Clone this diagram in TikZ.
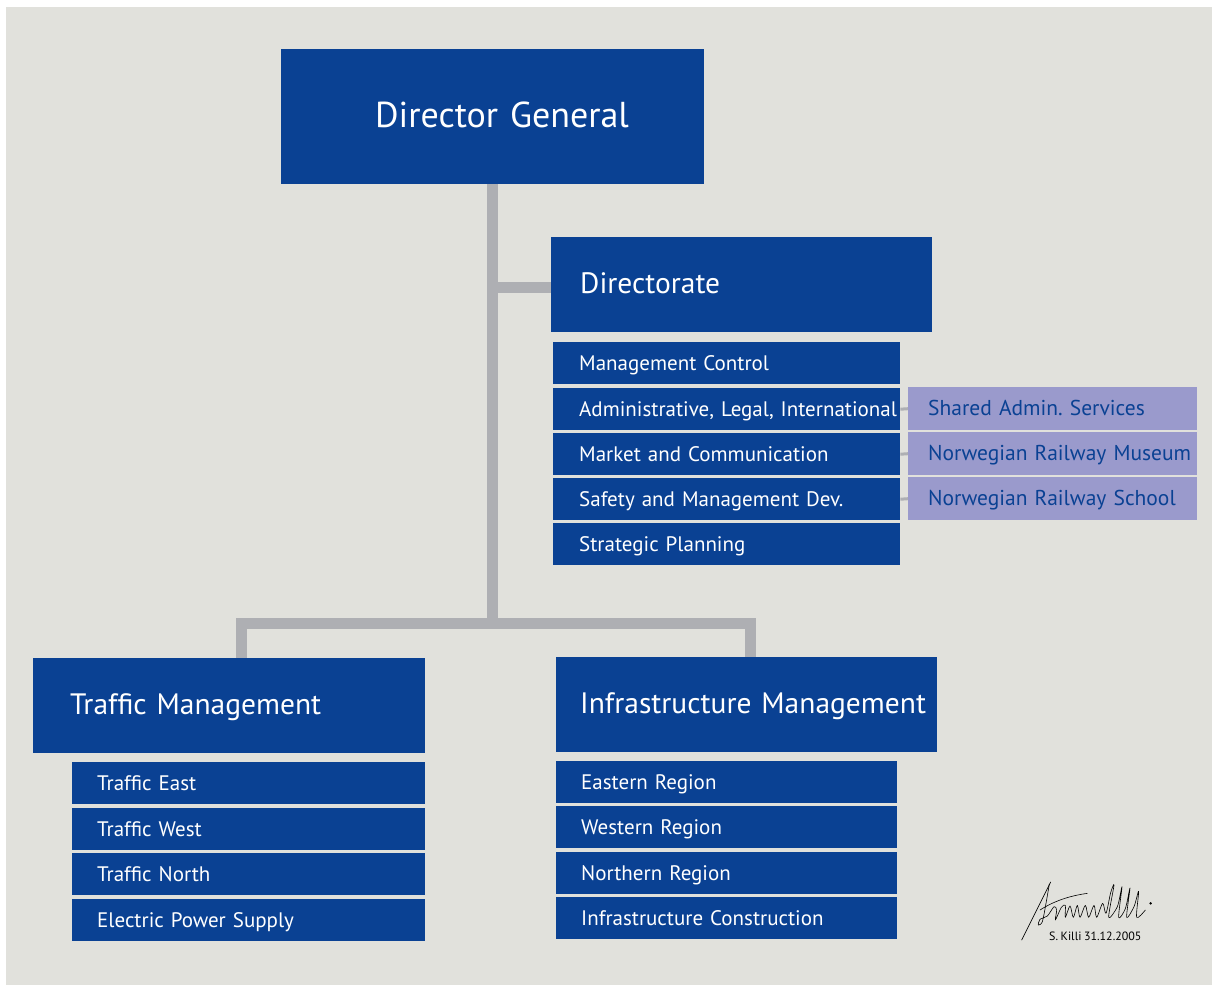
\documentclass[tikz,border=0pt]{standalone}
\usepackage{fontspec}
\setmainfont{PT Sans}[WordSpace=0.8]
\usetikzlibrary{positioning}
\definecolor{nsbblue}{HTML}{0A4193}
\definecolor{nsbgrey}{HTML}{E1E1DC}
\definecolor{linkgrey}{HTML}{AEAFB3}
\definecolor{lilac}{HTML}{9A9ACC}
\frenchspacing

\begin{document}
\begin{tikzpicture}[x=1pt,y=-1pt,
  box/.style={fill=nsbblue,text=white,anchor=north west,align=left,
    inner xsep=0pt,inner ysep=0pt,text depth=0pt},
  lpad/.style={execute at begin node={\hspace*{#1}}},
  head/.style={box,font=\fontsize{29.5}{32}\selectfont,text height=18pt,minimum height=95pt},
  row/.style={box,font=\fontsize{21}{24}\selectfont,text height=14pt,minimum height=42pt},
  dirrow/.style={row,text width=347pt,lpad=26pt},
  tmrow/.style={row,text width=353pt,lpad=25pt},
  imrow/.style={row,text width=341pt,lpad=25pt},
  side/.style={row,font=\fontsize{21.5}{24}\selectfont,fill=lilac,text=nsbblue,
    text width=289pt,lpad=20pt,minimum height=43pt},
  link/.style={draw=linkgrey,line width=11pt},
  tick/.style={draw=linkgrey,line width=3pt}]
  \useasboundingbox (0,0) rectangle (1212,985);
  \fill[nsbgrey] (6,7) rectangle (1212,985);

  % top of the tree
  \node[box,font=\fontsize{36}{40}\selectfont,text height=21pt,minimum height=135pt,
    text width=423pt,lpad=94pt] (dg) at (281,49) {Director General};
  \node[head,text width=381pt,lpad=29pt] (dir) at (551,237) {Directorate};

  % staff units under the directorate
  \node[dirrow] (mc)  at (553,342) {Management Control};
  \node[dirrow] (adm) at (553,388) {Administrative, Legal, International};
  \node[dirrow] (mkt) at (553,433) {Market and Communication};
  \node[dirrow] (saf) at (553,478) {Safety and Management Dev.};
  \node[dirrow] (stp) at (553,523) {Strategic Planning};

  \node[side] (sas) at (908,387) {Shared Admin. Services};
  \node[side] (mus) at (908,432) {Norwegian Railway Museum};
  \node[side] (sch) at (908,477) {Norwegian Railway School};

  % the two divisions
  \node[head,text width=392pt,lpad=37pt] (tm) at (33,658) {Traffic Management};
  \node[head,text width=381pt,lpad=24pt] (im) at (556,657) {Infrastructure Management};

  \node[tmrow] (te) at (72,762) {Traffic East};
  \node[tmrow] (tw) at (72,808) {Traffic West};
  \node[tmrow] (tn) at (72,853) {Traffic North};
  \node[tmrow] (ep) at (72,899) {Electric Power Supply};

  \node[imrow] (er) at (556,761) {Eastern Region};
  \node[imrow] (wr) at (556,806) {Western Region};
  \node[imrow] (nr) at (556,852) {Northern Region};
  \node[imrow] (ic) at (556,897) {Infrastructure Construction};

  % grey lines
  \coordinate (jn) at (dg.south |- 0,623.5);
  \draw[link] (dg.south) -- (jn);
  \draw[link] (dg.south |- 0,287.5) -- (dir.west |- 0,287.5);
  \draw[link] ([xshift=12pt]tm.north) |- (jn) -| ([xshift=4pt]im.north);
  \draw[tick] (adm.east) -- (sas.west);
  \draw[tick] (mkt.east) -- (mus.west);
  \draw[tick] (saf.east) -- (sch.west);

  % signature
  \begin{scope}[shift={(990,860)},x=0.3333pt,y=-0.3333pt,line width=0.6pt,line cap=round,line join=round]
    \draw (95,240) .. controls (130,170) and (160,110) .. (182,66);
    \draw plot[smooth,tension=0.5] coordinates {(178,72) (168,130) (157,185) (145,195) (150,178)
      (172,168) (192,140) (200,150) (196,180) (214,142) (226,136) (226,172) (240,138) (250,172)
      (262,136) (270,172) (286,136) (296,172) (312,136) (320,172) (338,130) (348,160) (362,98)
      (372,76) (356,172) (382,140) (396,80) (386,172) (406,146) (420,84) (410,172) (432,140)
      (446,94) (440,172) (466,150)};
    \draw (150,150) .. controls (200,118) and (250,106) .. (292,100);
    \fill (482,130) circle (4);
  \end{scope}
  \node[font=\fontsize{12}{14}\selectfont,anchor=west,inner sep=0pt] (sig) at (1049,936) {S. Killi 31.12.2005};
\end{tikzpicture}
\end{document}
